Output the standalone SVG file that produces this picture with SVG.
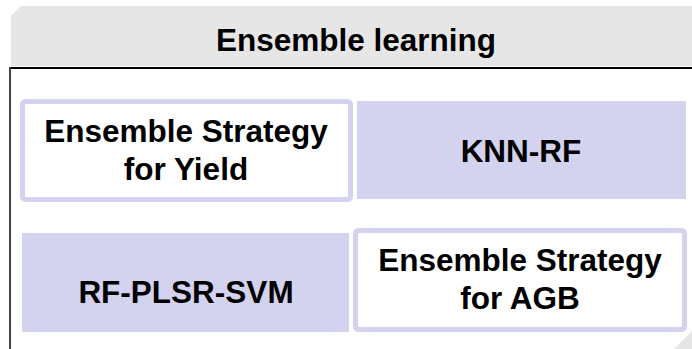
<svg xmlns="http://www.w3.org/2000/svg" width="692" height="349" viewBox="0 0 692 349">
<style>
text{font-family:"Liberation Sans",Arial,sans-serif;font-weight:bold;fill:#000;text-anchor:middle}
.t{font-size:31.5px}
.fill{fill:#d3d3f0;stroke:none}
.outl{fill:#fff;stroke:#d3d3f0;stroke-width:5}
</style>
<rect width="692" height="349" fill="#fff"/>
<g id="header">
<polygon points="11,16 21,6 692,6 692,66 11,66" fill="#e6e6e6"/>
<text x="356" y="51" style="font-size:31.5px">Ensemble learning</text>
</g>
<g id="frame">
<line x1="9" y1="68" x2="692" y2="68" stroke="#000" stroke-width="2"/>
<line x1="10" y1="67" x2="10" y2="349" stroke="#444" stroke-width="2"/>
<polygon points="674,349 692,331 692,349" fill="#e6e6e6"/>
</g>
<g id="ensemble-yield">
<rect class="outl" x="22.5" y="101.5" width="328" height="98" rx="3"/>
<text class="t" x="186" y="142">Ensemble Strategy</text>
<text class="t" x="186" y="180">for Yield</text>
</g>
<g id="knn-rf">
<rect class="fill" x="357" y="101" width="329" height="98"/>
<text class="t" x="521" y="162">KNN-RF</text>
</g>
<g id="rf-plsr-svm">
<rect class="fill" x="22" y="233" width="327" height="99"/>
<text class="t" x="186" y="303">RF-PLSR-SVM</text>
</g>
<g id="ensemble-agb">
<rect class="outl" x="355.5" y="230.5" width="329" height="99" rx="3"/>
<text class="t" x="520" y="271">Ensemble Strategy</text>
<text class="t" x="520" y="309">for AGB</text>
</g>
<g id="connectors"/>
</svg>
